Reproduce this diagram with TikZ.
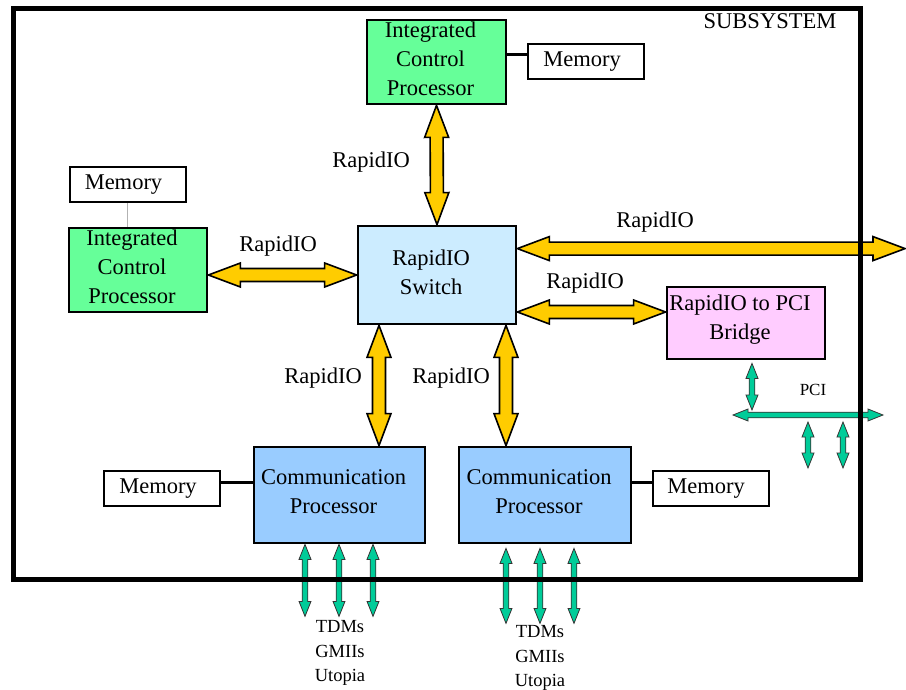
\documentclass[tikz,border=0pt]{standalone}
\usepackage{fontspec}
\setmainfont{Liberation Serif}
\usetikzlibrary{calc}

\definecolor{icpgreen}{HTML}{66FF99}
\definecolor{swblue}{HTML}{CCECFF}
\definecolor{cpblue}{HTML}{99CCFF}
\definecolor{brpink}{HTML}{FFCCFF}
\definecolor{rioyellow}{HTML}{FFCC00}
\definecolor{busgreen}{HTML}{00CC99}

% Two-headed block arrow between two points:
% #1 style, #2 from, #3 to, #4 shaft half width, #5 head half width, #6 head length
\newcommand\blockarrow[6]{%
  \draw[#1] (#2)
    -- ($(#2)!#6!(#3)!#5!90:(#3)$)
    -- ($(#2)!#6!(#3)!#4!90:(#3)$)
    -- ($(#3)!#6!(#2)!#4!-90:(#2)$)
    -- ($(#3)!#6!(#2)!#5!-90:(#2)$)
    -- (#3)
    -- ($(#3)!#6!(#2)!#5!90:(#2)$)
    -- ($(#3)!#6!(#2)!#4!90:(#2)$)
    -- ($(#2)!#6!(#3)!#4!-90:(#3)$)
    -- ($(#2)!#6!(#3)!#5!-90:(#3)$)
    -- cycle;}
\newcommand\rio[2]{\blockarrow{rioarrow}{#1}{#2}{6.5pt}{12pt}{32pt}}
\newcommand\bus[2]{\blockarrow{busarrow}{#1}{#2}{2.8pt}{6pt}{15pt}}

\tikzset{
  txt/.style={font=\fontsize{22.5}{29}\selectfont},
  small/.style={font=\fontsize{18.5}{24.5}\selectfont},
  block/.style={draw=black, line width=2.8pt, inner sep=0pt},
  blocktext/.style={inner sep=0pt, align=center, txt, yshift=3pt, xshift=-6pt},
  membox/.style={draw=black, line width=2pt, fill=white, inner sep=0pt,
    minimum width=116pt, minimum height=35pt, txt},
  rioarrow/.style={draw=black, line width=1.6pt, fill=rioyellow, line join=miter},
  busarrow/.style={draw=black!80, line width=0.8pt, fill=busgreen, line join=miter},
  link/.style={draw=black, line width=3pt},
  lbl/.style={inner sep=0pt, txt},
}

\begin{document}
\begin{tikzpicture}[x=1pt, y=-1pt]
\useasboundingbox (0,0) rectangle (906,690);

% processing blocks
\node[block, fill=icpgreen, minimum width=139pt, minimum height=84pt] (icpT) at (436.5,62) {};
\node[blocktext] (icpTt) at (icpT) {Integrated\\Control\\Processor};
\node[block, fill=icpgreen, minimum width=138pt, minimum height=84pt] (icpL) at (138,270) {};
\node[blocktext] (icpLt) at (icpL) {Integrated\\Control\\Processor};
\node[block, fill=swblue, minimum width=158pt, minimum height=98pt] (sw) at (437,275) {};
\node[blocktext] (swt) at (sw) {RapidIO\\Switch};
\node[block, fill=brpink, minimum width=158pt, minimum height=72pt] (br) at (746,323) {};
\node[blocktext] (brt) at (br) {RapidIO to PCI\\Bridge};
\node[block, fill=cpblue, minimum width=171pt, minimum height=96pt] (cp1) at (339.5,495) {};
\node[blocktext] (cp1t) at (cp1) {Communication\\Processor};
\node[block, fill=cpblue, minimum width=172pt, minimum height=96pt] (cp2) at (545,495) {};
\node[blocktext] (cp2t) at (cp2) {Communication\\Processor};

% memories
\node[membox] (memT) at (586,61.5) {Memory\hspace*{8pt}};
\node[membox] (memL) at (127.5,185) {Memory\hspace*{8pt}};
\node[membox] (mem1) at (162,488.5) {Memory\hspace*{8pt}};
\node[membox] (mem2) at (711,488.5) {Memory\hspace*{10pt}};

% memory links
\draw[link] ($(icpT.east)+(0,-7)$) coordinate (lt) -- (memT.west |- lt);
\draw[gray!60, line width=0.8pt] (memL.south) -- (memL.south |- icpL.north);
\draw[link] ($(mem1.east)+(0,-6.5)$) coordinate (l1) -- (cp1.west |- l1);
\draw[link] ($(mem2.west)+(0,-6.5)$) coordinate (l2) -- (cp2.east |- l2);

% RapidIO links
\coordinate (swW) at ($(sw.west)$);
\coordinate (icpLE) at (icpL.east |- swW);
\rio{icpLE}{swW}
\rio{icpT.south}{sw.north}
\coordinate (swE1) at ($(sw.north east)+(0,24)$);
\coordinate (ext) at (905,0 |- swE1);
\rio{swE1}{ext}
\coordinate (brW) at ($(br.west)+(0,-11)$);
\coordinate (swE2) at (sw.east |- brW);
\rio{swE2}{brW}
\coordinate (swS1) at ($(sw.south)+(-58,0)$);
\coordinate (cp1N) at (swS1 |- cp1.north);
\rio{swS1}{cp1N}
\coordinate (swS2) at ($(sw.south)+(69,0)$);
\coordinate (cp2N) at (swS2 |- cp2.north);
\rio{swS2}{cp2N}

\node[lbl] (r1) at (278,246) {RapidIO};
\node[lbl] (r2) at (371,162) {RapidIO};
\node[lbl] (r3) at (655,222) {RapidIO};
\node[lbl] (r4) at (585,283) {RapidIO};
\node[lbl] (r5) at (323,378) {RapidIO};
\node[lbl] (r6) at (451,378) {RapidIO};

% PCI bus
\coordinate (brS) at ($(br.south)+(6,3)$);
\coordinate (busT) at (752,410);
\bus{brS}{busT}
\coordinate (pciL) at (733,415);
\coordinate (pciR) at (883,415);
\bus{pciL}{pciR}
\coordinate (pa1) at (808,422);
\coordinate (pb1) at (808,468);
\bus{pa1}{pb1}
\coordinate (pa2) at (843,422);
\coordinate (pb2) at (843,468);
\bus{pa2}{pb2}
\node[inner sep=0pt, font=\fontsize{17}{20}\selectfont] (pci) at (813,390) {PCI};

% external interfaces of the communication processors
\foreach \dx [count=\i] in {-34.5,-0.5,33.5} {
  \coordinate (ca\i) at ($(cp1.south)+(\dx,0)$);
  \coordinate (cb\i) at ($(cp1.south)+(\dx,72)$);
  \bus{ca\i}{cb\i}
}
\foreach \dx [count=\i] in {-39,-5,29} {
  \coordinate (da\i) at ($(cp2.south)+(\dx,4)$);
  \coordinate (db\i) at ($(cp2.south)+(\dx,79)$);
  \bus{da\i}{db\i}
}
\node[inner sep=0pt, align=center, small] (if1) at (340,653) {TDMs\\GMIIs\\Utopia};
\node[inner sep=0pt, align=center, small] (if2) at (540,658) {TDMs\\GMIIs\\Utopia};

% subsystem frame
\draw[black, line width=5pt] (13,9) rectangle (860.5,579);
\node[inner sep=0pt, txt] (sub) at (770,21) {SUBSYSTEM};
\end{tikzpicture}
\end{document}
